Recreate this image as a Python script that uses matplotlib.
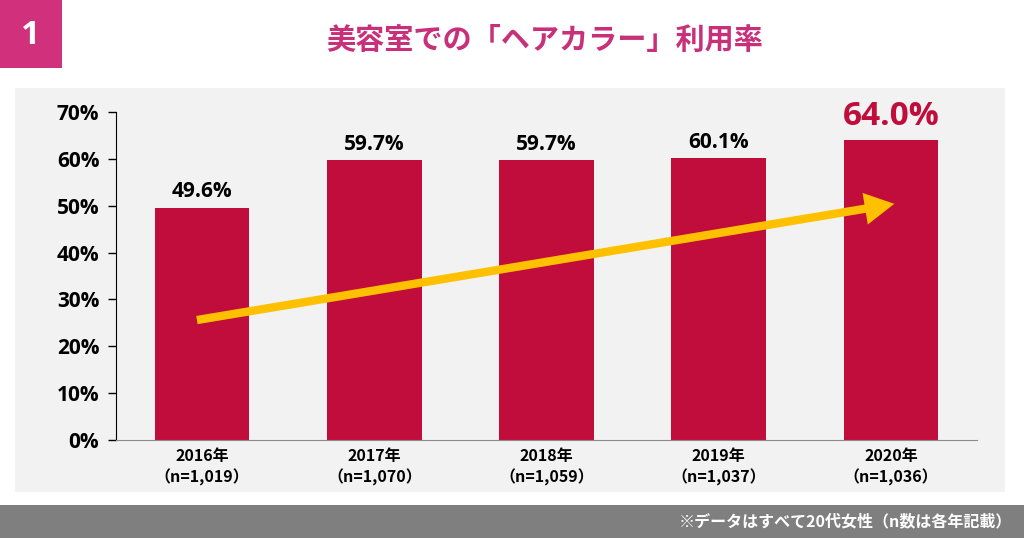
import numpy as np
import matplotlib.pyplot as plt
from matplotlib.patches import Rectangle

years = ['2016年', '2017年', '2018年', '2019年', '2020年']
n_counts = ['1,019', '1,070', '1,059', '1,037', '1,036']
rates = [49.6, 59.7, 59.7, 60.1, 64.0]
yticks = [0, 10, 20, 30, 40, 50, 60, 70]

JP = ['Noto Sans CJK JP', 'DejaVu Sans']
NUM = ['Open Sans', 'Noto Sans CJK JP']
plt.rcParams['font.family'] = JP

fig = plt.figure(figsize=(10.24, 5.38), dpi=100)
W, H = 1024, 538

# background panels (figure pixel coords)
fig.patches.append(Rectangle((15 / W, 1 - 492 / H), 990 / W, 404 / H, transform=fig.transFigure,
                             facecolor='#f2f2f2', edgecolor='none', zorder=-10))
fig.patches.append(Rectangle((0, 0), 1, 33 / H, transform=fig.transFigure,
                             facecolor='#7f7f7f', edgecolor='none', zorder=-10))
fig.patches.append(Rectangle((0, 1 - 68 / H), 62 / W, 68 / H, transform=fig.transFigure,
                             facecolor='#d0307c', edgecolor='none', zorder=-10))
fig.text(31 / W, 1 - 35 / H, '1', color='white', fontsize=24, fontweight='bold',
         ha='center', va='center', family=NUM)
fig.text(545 / W, 1 - 40 / H, '美容室での「ヘアカラー」利用率', color='#c8307a', fontsize=21,
         fontweight='bold', ha='center', va='center')
fig.text(1012 / W, 17 / H, '※データはすべて20代女性（n数は各年記載）', color='white', fontsize=11.5,
         fontweight='bold', ha='right', va='center')

ax = fig.add_axes([116 / W, 1 - 440 / H, 861 / W, 328 / H])
ax.set_facecolor('none')
x = np.arange(len(years))
ax.bar(x, rates, width=0.55, color='#c00d3c', zorder=2)
ax.set_xlim(-0.5, 4.5)
ax.set_ylim(0, 70)

for i, v in enumerate(rates):
    if i == len(rates) - 1:
        ax.text(i, v + 1.5, f'{v:.1f}%', ha='center', va='bottom', fontsize=24,
                fontweight='bold', color='#c00d3c', family=NUM)
    else:
        ax.text(i, v + 1.2, f'{v:.1f}%', ha='center', va='bottom', fontsize=15,
                fontweight='bold', color='black', family=NUM)

# trend arrow
ax.annotate('', xy=(4.02, 50.4), xytext=(-0.03, 25.6),
            arrowprops=dict(arrowstyle='-|>,head_length=1.2,head_width=0.65', lw=6,
                            color='#ffc000', shrinkA=0, shrinkB=0, capstyle='butt',
                            joinstyle='miter'), zorder=3)

ax.set_yticks(yticks)
ax.set_yticklabels([f'{t}%' for t in yticks], fontsize=15, fontweight='bold', family=NUM)
ax.set_xticks(x)
ax.set_xticklabels([f'{y}\n（n={n}）' for y, n in zip(years, n_counts)], fontsize=11.5,
                   fontweight='bold', linespacing=1.3)
ax.tick_params(axis='x', length=0, pad=6)
ax.tick_params(axis='y', length=6, width=1, pad=6)
for s in ['top', 'right']:
    ax.spines[s].set_visible(False)
ax.spines['left'].set_color('black')
ax.spines['bottom'].set_color('#8c8c8c')

fig.savefig('out.png', dpi=100)
